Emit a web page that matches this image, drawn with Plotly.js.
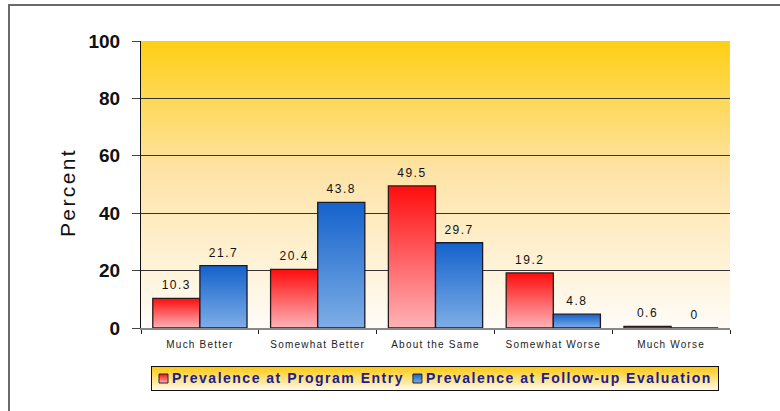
<!DOCTYPE html>
<html>
<head>
<meta charset="utf-8">
<script src="https://cdn.plot.ly/plotly-3.0.1.min.js"></script>
<style>
  html, body { margin: 0; padding: 0; background: #fff; }
  #wrap { position: relative; width: 780px; height: 411px; }
  #chart { width: 780px; height: 411px; }
  #frame { position: absolute; left: 8px; top: 4px; width: 800px; height: 500px;
           border-left: 2px solid #6a6a6a; border-top: 2px solid #6a6a6a; pointer-events: none; }
  .xtick text { letter-spacing: 1.2px; }
  .bartext { letter-spacing: 1.5px; }
  .ytitle { letter-spacing: 2.4px; }
  #gdefs { position: absolute; width: 0; height: 0; }
</style>
</head>
<body>
<svg id="gdefs" width="0" height="0">
  <defs>
    <linearGradient id="gradRed" x1="0" y1="0" x2="0" y2="1">
      <stop offset="0" stop-color="#ff0d0d"/>
      <stop offset="1" stop-color="#ffb3b8"/>
    </linearGradient>
    <linearGradient id="gradBlue" x1="0" y1="0" x2="0" y2="1">
      <stop offset="0" stop-color="#1462cc"/>
      <stop offset="1" stop-color="#7eaee6"/>
    </linearGradient>
    <linearGradient id="gradBg" x1="0" y1="0" x2="0" y2="1">
      <stop offset="0" stop-color="#ffcf14"/>
      <stop offset="0.45" stop-color="#fee3a6"/>
      <stop offset="1" stop-color="#fffcf7"/>
    </linearGradient>
    <linearGradient id="gradLegend" x1="0" y1="0" x2="0" y2="1">
      <stop offset="0" stop-color="#ffc80a"/>
      <stop offset="1" stop-color="#fffaf0"/>
    </linearGradient>
  </defs>
</svg>
<div id="wrap">
  <div id="chart"></div>
  <div id="frame"></div>
</div>
<script>
const categories = ["Much Better", "Somewhat Better", "About the Same", "Somewhat Worse", "Much Worse"];
const entryValues = [10.3, 20.4, 49.5, 19.2, 0.6];
const followupValues = [21.7, 43.8, 29.7, 4.8, 0];
const seriesNames = ["Prevalence at Program Entry", "Prevalence at Follow-up Evaluation"];
const yTicks = [0, 20, 40, 60, 80, 100];

const FONT = "Liberation Sans, Arial, sans-serif";
const labelFont = { family: FONT, size: 12, color: "#111" };

const traces = [
  {
    type: "bar", name: seriesNames[0], x: categories, y: entryValues,
    text: entryValues.map(String), textposition: "outside", cliponaxis: false,
    textfont: labelFont,
    marker: { color: "#ff4040", line: { color: "#2a1a1a", width: 1.3 } },
    hoverinfo: "skip"
  },
  {
    type: "bar", name: seriesNames[1], x: categories, y: followupValues,
    text: followupValues.map(String), textposition: "outside", cliponaxis: false,
    textfont: labelFont,
    marker: { color: "#3b7fd8", line: { color: "#1a1a2a", width: 1.3 } },
    hoverinfo: "skip"
  }
];

const layout = {
  width: 780, height: 411,
  margin: { l: 141, r: 50, t: 41, b: 83 },
  paper_bgcolor: "rgba(0,0,0,0)",
  plot_bgcolor: "#fff0c0",
  barmode: "group",
  bargap: 0.2,
  bargroupgap: 0,
  showlegend: true,
  font: { family: FONT, color: "#111" },
  xaxis: {
    type: "category", automargin: false,
    tickfont: { family: FONT, size: 10, color: "#222" },
    ticks: "outside", tickson: "boundaries", ticklen: 4, tickcolor: "#222", tickwidth: 1,
    ticklabelstandoff: 6,
    showline: true, linecolor: "#888", linewidth: 2,
    showgrid: false, fixedrange: true
  },
  yaxis: {
    range: [0, 100], automargin: false,
    tickvals: yTicks,
    ticktext: yTicks.map(String),
    tickfont: { family: FONT, size: 19, color: "#111", weight: "bold" },
    ticks: "outside", ticklen: 8, tickcolor: "#444", tickwidth: 1,
    ticklabelstandoff: 8,
    showline: true, linecolor: "#111", linewidth: 1,
    showgrid: true, gridcolor: "#333", gridwidth: 1,
    zeroline: false,
    title: { text: "Percent", font: { family: FONT, size: 21, color: "#111" }, standoff: 7 },
    fixedrange: true
  },
  legend: {
    orientation: "h",
    x: 0.497, xanchor: "center",
    y: -0.13, yanchor: "top",
    bgcolor: "#ffe080",
    bordercolor: "#111", borderwidth: 1,
    font: { family: FONT, size: 11, color: "#1c1c8c" },
    itemwidth: 30,
    traceorder: "normal"
  }
};

Plotly.newPlot("chart", traces, layout, { displayModeBar: false, staticPlot: true }).then(function (gd) {
  const grads = ["url(#gradRed)", "url(#gradBlue)"];
  gd.querySelectorAll(".barlayer .trace.bars").forEach(function (tr, i) {
    tr.querySelectorAll(".point path").forEach(function (p) { p.style.fill = grads[i]; });
    tr.querySelectorAll("text.bartext").forEach(function (t) {
      const y = parseFloat(t.getAttribute("y") || "0");
      t.setAttribute("y", y - 3);
    });
  });
  const bg = gd.querySelector(".bglayer rect.bg");
  if (bg) bg.style.fill = "url(#gradBg)";

  const yt = gd.querySelector(".ytitle");
  if (yt) yt.setAttribute("transform", "translate(0,8) " + (yt.getAttribute("transform") || ""));

  // compact legend layout to match the original's box
  try {
    const leg = gd.querySelector(".legend");
    const lbg = leg.querySelector("rect.bg");
    lbg.style.fill = "url(#gradLegend)";
    const items = leg.querySelectorAll(".traces");
    const H = 24;
    let x = 4;
    items.forEach(function (it, i) {
      it.querySelectorAll(".legendpoints path").forEach(function (p) {
        p.setAttribute("transform", "translate(8.5,0) scale(0.75)");
        p.style.fill = grads[i];
        p.style.stroke = "#222";
        p.style.strokeWidth = "1.3px";
      });
      const txt = it.querySelector("text.legendtext");
      txt.style.fontSize = "14px";
      txt.style.fontWeight = "bold";
      txt.style.letterSpacing = "1.5px";
      txt.setAttribute("x", 17);
      const w = txt.getBBox().width;
      it.setAttribute("transform", "translate(" + x + "," + (H / 2 + 0.5) + ")");
      x += 17 + w + 5;
    });
    const totalW = x + 1;
    lbg.setAttribute("width", totalW);
    lbg.setAttribute("height", H);
    const lx = 151, ly = 366;
    leg.setAttribute("transform", "translate(" + lx + "," + ly + ")");
    const clip = document.querySelector("#legend" + gd._fullLayout._uid + " rect");
    if (clip) { clip.setAttribute("width", totalW + 5); clip.setAttribute("height", H + 5); }
  } catch (e) { console.log(e); }
});
</script>
</body>
</html>
